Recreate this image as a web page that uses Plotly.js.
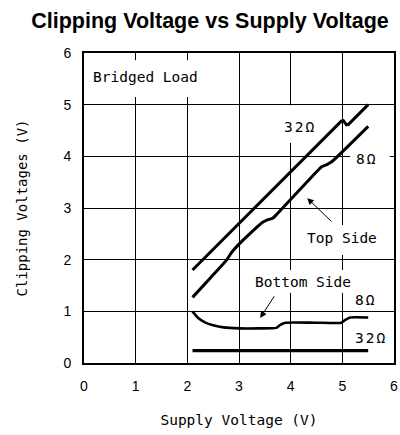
<!DOCTYPE html>
<html>
<head>
<meta charset="utf-8">
<script src="https://cdn.plot.ly/plotly-3.0.1.min.js"></script>
<style>html,body{margin:0;padding:0;background:#fff;}#chart{width:400px;height:435px;}</style>
</head>
<body>
<div id="chart"></div>
<script>
// Top side, 32 ohm
const top32Supply = [2.1, 4.98, 5.02, 5.08, 5.12, 5.5];
const top32Clip   = [1.8, 4.68, 4.69, 4.61, 4.62, 5.0];
// Top side, 8 ohm
const top8Supply = [2.1, 2.45, 2.75, 2.85, 3.0, 3.45, 3.55, 3.65, 3.75, 4.5, 4.6, 4.7, 4.8, 5.5];
const top8Clip   = [1.27, 1.65, 1.98, 2.13, 2.3, 2.72, 2.77, 2.8, 2.9, 3.7, 3.8, 3.84, 3.9, 4.58];
// Bottom side, 8 ohm
const bot8Supply = [2.1, 2.2, 2.35, 2.5, 2.7, 3.0, 3.4, 3.72, 3.8, 3.9, 4.5, 4.98, 5.05, 5.15, 5.5];
const bot8Clip   = [1.0, 0.88, 0.78, 0.73, 0.69, 0.67, 0.67, 0.68, 0.74, 0.78, 0.78, 0.78, 0.83, 0.88, 0.88];
// Bottom side, 32 ohm
const bot32Supply = [2.1, 5.5];
const bot32Clip   = [0.24, 0.24];

const tickVals = [0, 1, 2, 3, 4, 5, 6];
const tickText = ['0', '1', '2', '3', '4', '5', '6'];

const mono = 'DejaVu Sans Mono, monospace';
const line = (x, y, w, smooth) => ({x: x, y: y, type: 'scatter', mode: 'lines',
  line: smooth ? {color: '#000', width: w, shape: 'spline', smoothing: 0.5} : {color: '#000', width: w},
  hoverinfo: 'skip', showlegend: false});

const data = [
  line(top32Supply, top32Clip, 3, false),
  line(top8Supply, top8Clip, 3, true),
  line(bot8Supply, bot8Clip, 2.6, true),
  line(bot32Supply, bot32Clip, 3.2, false)
];

const lab = (text, x, y) => ({text: text, x: x, y: y, xref: 'x', yref: 'y', showarrow: false,
  font: {family: mono, size: 14.5, color: '#000'}, xanchor: 'center', yanchor: 'middle'});
const arrow = (x, y, ax, ay) => ({text: '', x: x, y: y, ax: ax, ay: ay, xref: 'x', yref: 'y', axref: 'x', ayref: 'y',
  showarrow: true, arrowhead: 2, arrowsize: 1.3, arrowwidth: 1, arrowcolor: '#000', standoff: 0, startstandoff: 0});

const ls = '<span style="letter-spacing:2px">';
const annotations = [
  lab('Bridged Load', 1.19, 5.535),
  lab(ls + '32Ω</span>', 4.18, 4.57),
  lab(ls + '8Ω</span>', 5.46, 3.95),
  lab('Top Side', 5.0, 2.42),
  lab('Bottom Side', 4.23, 1.57),
  lab(ls + '8Ω</span>', 5.45, 1.22),
  lab(ls + '32Ω</span>', 5.55, 0.48),
  arrow(4.32, 3.19, 4.82, 2.71),
  arrow(3.41, 0.87, 3.70, 1.32)
];

// white boxes that break the grid behind the labels (between grid and traces)
const gap = (x0, x1, y0, y1) => ({type: 'rect', xref: 'x', yref: 'y', x0: x0, x1: x1, y0: y0, y1: y1,
  fillcolor: '#fff', line: {width: 0}, layer: 'between'});
const shapes = [
  gap(0.05, 2.3, 5.15, 5.86),
  gap(3.85, 4.5, 4.26, 4.99),
  gap(5.15, 5.92, 3.8, 4.15),
  gap(4.4, 5.6, 2.09, 2.67),
  gap(3.3, 5.2, 1.36, 1.8)
];

const axisCommon = {
  range: [0, 6], tickmode: 'array', tickvals: tickVals, ticktext: tickText,
  showgrid: true, gridcolor: '#000', gridwidth: 1, zeroline: false,
  showline: true, linecolor: '#000', linewidth: 2, mirror: true,
  ticks: '', tickfont: {family: 'Liberation Sans, Arial, sans-serif', size: 14, color: '#000'},
  fixedrange: true
};

const layout = {
  width: 400, height: 435,
  margin: {l: 84, r: 6, t: 53, b: 72},
  paper_bgcolor: '#fff', plot_bgcolor: '#fff',
  title: {text: 'Clipping Voltage vs Supply Voltage', x: 0.525, xref: 'container', xanchor: 'center',
    y: 0.953, yref: 'container', yanchor: 'middle',
    font: {family: 'Liberation Sans, Arial, sans-serif', size: 21.5, color: '#000', weight: 'bold'}},
  xaxis: Object.assign({}, axisCommon, {
    ticklabelstandoff: 9,
    title: {text: 'Supply Voltage (V)', font: {family: mono, size: 14.5, color: '#000'}, standoff: 22}
  }),
  yaxis: Object.assign({}, axisCommon, {
    ticklabelstandoff: 8,
    title: {text: 'Clipping Voltages (V)', font: {family: mono, size: 14, color: '#000'}, standoff: 33}
  }),
  shapes: shapes,
  annotations: annotations,
  showlegend: false
};

Plotly.newPlot('chart', data, layout, {displayModeBar: false, staticPlot: true});
</script>
</body>
</html>
